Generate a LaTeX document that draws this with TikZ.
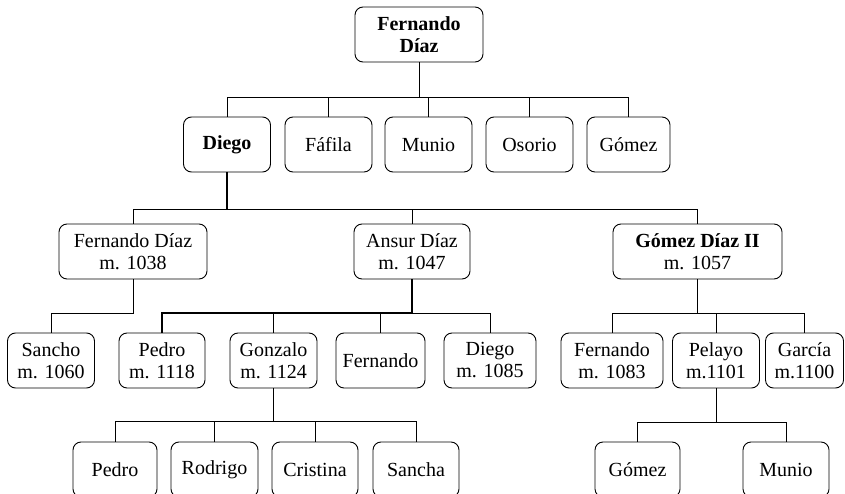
\documentclass[tikz,border=0pt]{standalone}
\usepackage{fontspec}
\setmainfont{Liberation Serif}
\begin{document}
\begin{tikzpicture}[x=1pt,y=-1pt,
  box/.style={draw, line width=0.9pt, rounded corners=8pt, minimum height=55pt,
    inner sep=0pt, align=center, font=\fontsize{20}{22}\selectfont},
  conn/.style={line width=0.8pt},
  thickconn/.style={line width=1.4pt}]
\clip (0,0) rectangle (845,494);
\fill[white] (0,0) rectangle (845,494);
% level 1
\node[box, minimum width=128pt, font=\fontsize{20}{22}\selectfont\bfseries] (top) at (419,34.5) {Fernando\\Díaz};
% level 2
\node[box, minimum width=87pt, font=\fontsize{20}{22}\selectfont\bfseries] (diego) at (227,144.5) {Diego};
\node[box, minimum width=87pt] (fafila) at (328.5,144.5) {Fáfila};
\node[box, minimum width=87pt] (munio) at (428.5,144.5) {Munio};
\node[box, minimum width=87pt] (osorio) at (529.5,144.5) {Osorio};
\node[box, minimum width=83pt] (gomez) at (628.5,144.5) {Gómez};
% level 3
\node[box, minimum width=148pt] (fd) at (133,251.5) {Fernando Díaz\\m. 1038};
\node[box, minimum width=116pt] (ansur) at (412,251.5) {Ansur Díaz\\m. 1047};
\node[box, minimum width=169pt] (gd) at (697.5,251.5) {\textbf{Gómez Díaz II}\\m. 1057};
% level 4
\node[box, minimum width=87pt] (sancho) at (51,360.5) {Sancho\\m. 1060};
\node[box, minimum width=86pt] (pedro) at (162,360.5) {Pedro\\m. 1118};
\node[box, minimum width=87pt] (gonzalo) at (273.5,360.5) {Gonzalo\\m. 1124};
\node[box, minimum width=89pt] (fernando) at (380.5,360.5) {Fernando};
\node[box, minimum width=92pt] (diego2) at (490,360.5) {Diego\\m. 1085};
\node[box, minimum width=102pt] (fern2) at (612,360.5) {Fernando\\m. 1083};
\node[box, minimum width=87pt] (pelayo) at (716,360.5) {Pelayo\\m.1101};
\node[box, minimum width=78pt] (garcia) at (804.5,360.5) {García\\m.1100};
% level 5
\node[box, minimum width=84pt] (pedro2) at (115,469.5) {Pedro};
\node[box, minimum width=87pt] (rodrigo) at (214.5,469.5) {Rodrigo};
\node[box, minimum width=86pt] (cristina) at (315,469.5) {Cristina};
\node[box, minimum width=86pt] (sancha) at (416,469.5) {Sancha};
\node[box, minimum width=85pt] (gomez2) at (637.5,469.5) {Gómez};
\node[box, minimum width=86pt] (munio2) at (786,469.5) {Munio};
% connectors
\foreach \c in {diego,fafila,munio,osorio,gomez}
  \draw[conn] (top.south) -- (top.south |- 0,97) -| (\c.north);
\foreach \c in {fd,ansur,gd}
  \draw[conn] (diego.south) -- (diego.south |- 0,209) -| (\c.north);
\draw[thickconn] (diego.south) -- (diego.south |- 0,209);
\draw[conn] (fd.south) -- (fd.south |- 0,313) -| (sancho.north);
\foreach \c in {fernando,diego2}
  \draw[conn] (ansur.south) -- (ansur.south |- 0,313) -| (\c.north);
\foreach \c in {pedro,gonzalo}
  \draw[thickconn] (ansur.south) -- (ansur.south |- 0,313) -| (\c.north);
\foreach \c in {fern2,pelayo,garcia}
  \draw[conn] (gd.south) -- (gd.south |- 0,313) -| (\c.north);
\foreach \c in {pedro2,rodrigo,cristina,sancha}
  \draw[conn] (gonzalo.south) -- (gonzalo.south |- 0,421) -| (\c.north);
\foreach \c in {gomez2,munio2}
  \draw[conn] (pelayo.south) -- (pelayo.south |- 0,422) -| (\c.north);
\end{tikzpicture}
\end{document}
